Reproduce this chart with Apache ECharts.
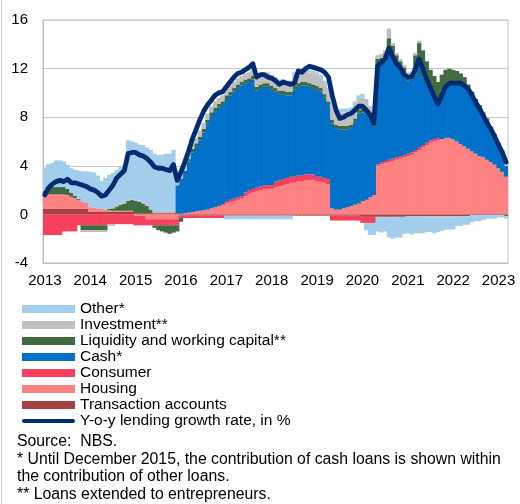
<!DOCTYPE html>
<html>
<head>
<meta charset="utf-8">
<script src="https://cdn.jsdelivr.net/npm/echarts@6.0.0/dist/echarts.min.js"></script>
<style>html,body{margin:0;padding:0;background:#fff}</style>
</head>
<body>
<div id="lending" style="width:520px;height:504px"></div>
<script>
// monthly categories, Jan 2013 - Mar 2023
var months = [];
for (var y = 2013; y <= 2023; y++) {
  for (var m = 1; m <= 12; m++) {
    if (y === 2023 && m > 3) break;
    months.push(y + '-' + (m < 10 ? '0' + m : m));
  }
}

// contributions to y-o-y growth, p.p. (one row per year)
var transactionAccounts = [
  0.45,0.45,0.45,0.45,0.45,0.45,0.45,0.45,0.45,0.45,0.45,0.45,
  0.2,0.2,0.2,0.2,0.2,0.2,0.2,0.2,0.2,0.2,0.2,0.2,
  0.1,0.1,0.1,0.1,0.1,0.1,0.1,0.1,0.1,0.1,0.1,0.1,
  -0.1,-0.1,-0.1,-0.1,-0.1,-0.1,-0.1,-0.1,-0.1,-0.1,-0.1,-0.1,
  -0.1,-0.1,-0.1,-0.1,-0.1,-0.1,-0.1,-0.1,-0.1,-0.1,-0.1,-0.1,
  -0.1,-0.1,-0.1,-0.1,-0.1,-0.1,-0.1,-0.1,-0.1,-0.1,-0.1,-0.1,
  -0.1,-0.1,-0.1,-0.1,-0.1,-0.1,-0.1,-0.1,-0.1,-0.1,-0.1,-0.1,
  -0.2,-0.2,-0.2,-0.2,-0.2,-0.2,-0.2,-0.2,-0.2,-0.2,-0.2,-0.2,
  -0.15,-0.15,-0.15,-0.15,-0.15,-0.15,-0.15,-0.15,-0.15,-0.15,-0.15,-0.15,
  -0.15,-0.15,-0.15,-0.15,-0.15,-0.05,-0.05,-0.05,-0.05,-0.05,-0.05,-0.05,
  -0.05,-0.05,-0.05
];
var housing = [
  1.2,1.2,1.2,1.2,1.2,1.2,1.15,1.0,0.9,0.75,0.6,0.5,
  0.4,0.35,0.3,0.25,0.2,0.15,0.1,0.1,0.1,0.1,0.1,0.1,
  -0.1,-0.1,-0.1,-0.4,-0.4,-0.4,-0.4,-0.4,-0.4,-0.4,-0.4,-0.4,
  0.05,0.1,0.15,0.2,0.25,0.3,0.35,0.4,0.5,0.6,0.7,0.8,
  0.9,1.0,1.1,1.2,1.3,1.5,1.7,1.8,1.9,2.0,2.1,2.1,
  2.1,2.2,2.3,2.4,2.5,2.6,2.6,2.7,2.7,2.8,2.8,2.8,
  2.7,2.7,2.6,2.5,0.5,0.4,0.4,0.5,0.6,0.7,0.8,0.9,
  1.1,1.2,1.4,1.6,4.0,4.1,4.2,4.3,4.4,4.5,4.6,4.7,
  4.8,4.9,5.1,5.3,5.5,5.7,5.9,6.0,6.1,6.2,6.3,6.3,
  6.2,6.0,5.8,5.6,5.4,5.2,5.0,4.8,4.7,4.5,4.3,4.1,
  3.8,3.5,3.1
];
var consumer = [
  -1.7,-1.7,-1.7,-1.7,-1.7,-1.4,-1.4,-1.4,-1.4,-0.9,-0.9,-0.9,
  -0.9,-0.9,-0.9,-0.9,-0.9,-0.8,-0.8,-0.8,-0.8,-0.8,-0.8,-0.8,
  -0.8,-0.8,-0.8,-0.5,-0.5,-0.5,-0.5,-0.5,-0.5,-0.5,-0.5,-0.5,
  -0.2,-0.2,-0.2,-0.2,-0.2,-0.2,-0.2,-0.2,-0.2,-0.2,-0.2,-0.2,
  0.2,0.2,0.2,0.2,0.2,0.3,0.3,0.3,0.3,0.3,0.3,0.3,
  0.3,0.5,0.5,0.5,0.5,0.5,0.5,0.5,0.5,0.5,0.5,0.5,
  0.4,0.4,0.4,0.4,-0.4,-0.4,-0.4,-0.4,-0.4,-0.4,-0.4,-0.4,
  -0.5,-0.5,-0.5,-0.5,0.1,0.2,0.2,0.2,0.2,0.2,0.2,0.2,
  0.2,0.2,0.2,0.2,0.2,0.2,0.2,0.2,0.2,0,0,0,
  0,0,0,0,0,0,0,0,0,0,0,0,
  0,0,0
];
var cash = [
  0,0,0,0,0,0,0,0,0,0,0,0,
  0,0,0,0,0,0,0,0,0,0,0,0,
  0,0,0,0,0,0,0,0,0,0,0,2.3,
  2.9,3.5,4.2,4.9,5.3,5.8,6.4,7.1,7.6,7.9,8.1,8.2,
  8.4,8.6,8.8,9.0,9.1,9.0,8.9,9.0,8.0,8.1,8.1,8.1,
  7.9,7.4,7.1,7.0,6.8,6.7,7.2,7.3,7.4,7.3,7.2,7.1,
  7.2,7.0,6.6,6.1,7.0,6.7,6.6,6.5,6.4,6.4,6.8,7.4,
  7.3,7.1,6.5,5.6,8.2,8.1,8.2,8.8,8.3,7.5,7.0,6.4,
  6.0,6.0,6.2,6.7,5.6,4.9,4.4,3.7,3.0,4.0,4.3,4.5,
  4.6,4.8,4.9,4.9,4.7,4.5,4.2,3.9,3.5,3.2,2.8,2.4,
  2.0,1.7,0.9
];
var liquidity = [
  0.3,0.6,0.6,0.6,0.6,0.6,0.5,0.35,0.2,0.1,-0.4,-0.4,
  -0.4,-0.4,-0.4,-0.4,-0.4,0.1,0.2,0.35,0.5,0.6,0.8,0.9,
  1.0,0.95,0.8,0.6,0.3,-0.2,-0.4,-0.5,-0.6,-0.7,-0.6,-0.5,
  -0.3,0,0.2,0.3,0.3,0.3,0.3,0.3,0.3,0.3,0.3,0.3,
  0.3,0.3,0.3,0.3,0.3,0.3,0.3,0.3,0.3,0.3,0.3,0.3,
  0.3,0.3,0.3,0.3,0.3,0.3,0.3,0.3,0.3,0.3,0.3,0.3,
  0.3,0.3,0.3,0.3,0.3,0.3,0.3,0.3,0.3,0.3,0.3,0.3,
  0.3,0.3,0.3,0.3,0.5,0.5,0.6,1.2,1.0,0.9,0.8,0.8,
  0.5,0.4,1.6,1.9,2.2,1.8,1.4,1.5,1.6,1.3,1.3,1.2,
  1.1,1.0,0.9,0.8,0.6,0.4,0.3,0.3,0.2,0.2,0.1,0.1,
  0.1,0,-0.1
];
var investment = [
  0,0,0,0,0,0,0,0,0,0,-0.15,-0.15,
  -0.15,-0.15,-0.15,-0.15,-0.15,-0.15,-0.15,0.1,0.1,0.1,0.1,0.1,
  0.1,0.1,0.1,0.2,0.2,0.2,0.2,0.2,0.2,0.2,0.2,0.2,
  0.4,0.4,0.4,0.4,0.4,0.5,0.5,0.5,0.5,0.5,0.5,0.5,
  0.5,0.5,0.5,0.5,0.5,0.5,0.5,0.5,0.9,0.9,0.9,0.9,
  0.9,0.9,0.9,0.9,0.9,0.9,0.9,0.9,0.9,0.9,0.9,0.9,
  0.9,0.9,0.9,0.9,1.1,1.1,1.1,1.1,1.1,1.1,1.1,0.9,
  0.9,0.9,0.7,0.7,0.3,0.3,0.3,0.8,0.2,0.2,0.2,0.2,
  0.2,0.2,0.2,0.2,-0.1,-0.1,-0.1,-0.1,-0.1,-0.1,-0.1,-0.1,
  -0.1,0,0,0,0,0,0,0,0,0,0,0,
  0,0,0
];
var other = [
  1.9,1.9,2.0,2.2,2.2,2.1,2.0,2.0,2.1,2.3,2.5,2.6,
  2.9,2.9,2.7,2.3,2.6,2.8,2.9,2.9,3.0,3.0,4.9,4.7,
  4.7,4.6,4.7,4.6,4.7,4.7,4.6,4.6,4.7,4.7,5.0,0.2,
  0.2,0.2,0.1,0.1,0,0,0,0,0,0,0,0,
  -0.3,-0.3,-0.3,-0.3,-0.3,-0.3,-0.3,-0.3,-0.3,-0.3,-0.3,-0.3,
  -0.3,-0.3,-0.3,-0.3,-0.3,-0.3,0.2,0.2,0.2,0.2,0.2,0.2,
  0.2,0.2,0.2,0.2,0.3,0.3,0.3,0.3,0.3,0.3,0.3,0.3,
  0.3,-0.6,-1.0,-1.0,-1.2,-1.3,-1.2,-1.7,-1.8,-1.7,-1.7,-1.4,
  -1.4,-1.5,-1.4,-1.4,-1.3,-1.2,-1.2,-1.3,-1.2,-1.1,-1.0,-1.0,
  -1.0,-0.8,-0.8,-0.7,-0.7,-0.6,-0.5,-0.5,-0.4,-0.3,-0.3,-0.3,
  -0.2,-0.2,-0.2
];
// y-o-y lending growth rate, %
var growth = [
  1.6,2.2,2.5,2.7,2.8,2.7,2.9,2.6,2.6,2.5,2.4,2.3,
  2.1,2.0,1.8,1.5,1.6,2.0,2.4,3.0,3.3,3.6,5.0,5.1,
  5.1,4.9,4.8,4.6,4.3,3.9,3.8,3.8,3.7,3.6,4.1,2.8,
  3.5,4.3,5.2,6.2,7.0,7.8,8.5,9.0,9.4,9.8,10.0,10.1,
  10.5,10.9,11.3,11.6,11.7,11.9,12.1,12.4,11.3,11.5,11.5,11.3,
  11.2,11.0,10.7,10.9,10.8,10.7,10.8,11.8,11.7,12.0,12.2,12.1,
  12.0,11.9,11.7,11.3,9.8,8.6,7.9,8.0,8.2,8.3,8.6,8.9,
  8.9,8.6,8.2,7.5,12.2,12.5,12.8,13.7,13.0,12.4,12.1,11.5,
  11.3,11.3,12.0,12.8,12.0,11.1,10.4,9.7,9.1,9.8,10.5,10.8,
  10.8,10.8,10.8,10.6,10.3,9.8,9.2,8.7,8.1,7.5,7.0,6.4,
  5.7,5.1,4.3
];

var font = '"Liberation Sans", Arial, sans-serif';
var noteFont = '15.8px ' + font;
var lineIcon = 'path://M2,0H51A2,2,0,0,1,51,4H2A2,2,0,0,1,2,0Z';

function barSeries(name, color, data) {
  return {
    name: name,
    type: 'bar',
    stack: 'total',
    barWidth: 4.4, // a bit wider than the 3.8px band so neighbours overlap, no seams
    itemStyle: { color: color },
    emphasis: { disabled: true },
    data: data
  };
}

var option = {
  animation: false,
  textStyle: { fontFamily: font },
  grid: { left: 43, right: 12, top: 20, bottom: 241, show: true, borderColor: '#C0C0C0', borderWidth: 1 },
  xAxis: {
    type: 'category',
    data: months,
    axisLine: { onZero: false, lineStyle: { color: '#C0C0C0' } },
    axisTick: { interval: function (i) { return i % 12 === 0; }, length: 4, lineStyle: { color: '#C0C0C0' } },
    axisLabel: {
      interval: function (i) { return i % 12 === 0; },
      formatter: function (v) { return v.slice(0, 4); },
      color: '#000', fontSize: 15, fontFamily: font, margin: 10
    },
    splitLine: { show: false }
  },
  yAxis: {
    type: 'value',
    min: -4, max: 16, interval: 4,
    axisLine: { show: true, lineStyle: { color: '#C0C0C0' } },
    axisTick: { show: false },
    axisLabel: { color: '#000', fontSize: 15, fontFamily: font, margin: 15 },
    splitLine: { lineStyle: { color: '#C8C8C8', width: 1 } }
  },
  legend: {
    orient: 'vertical', left: 17, top: 296,
    itemWidth: 53, itemHeight: 8, itemGap: 0,
    selectedMode: false,
    textStyle: { fontFamily: font, fontSize: 15.5, color: '#000', lineHeight: 15.9 },
    data: [
      { name: 'Other*', icon: 'rect' },
      { name: 'Investment**', icon: 'rect' },
      { name: 'Liquidity and working capital**', icon: 'rect' },
      { name: 'Cash*', icon: 'rect' },
      { name: 'Consumer', icon: 'rect' },
      { name: 'Housing', icon: 'rect' },
      { name: 'Transaction accounts', icon: 'rect' },
      { name: 'Y-o-y lending growth rate, in %', icon: lineIcon }
    ]
  },
  graphic: [
    { type: 'line', shape: { x1: 1.5, y1: 0, x2: 1.5, y2: 504 }, style: { stroke: '#D0D0D0', lineWidth: 1 } },
    { type: 'text', x: 17, y: 442, style: { text: 'Source:  NBS.', font: noteFont, fill: '#000', verticalAlign: 'middle' } },
    { type: 'text', x: 17, y: 459.5, style: { text: '* Until December 2015, the contribution of cash loans is shown within', font: noteFont, fill: '#000', verticalAlign: 'middle' } },
    { type: 'text', x: 17, y: 477, style: { text: 'the contribution of other loans.', font: noteFont, fill: '#000', verticalAlign: 'middle' } },
    { type: 'text', x: 17, y: 495, style: { text: '** Loans extended to entrepreneurs.', font: noteFont, fill: '#000', verticalAlign: 'middle' } }
  ],
  series: [
    barSeries('Transaction accounts', '#A64141', transactionAccounts),
    barSeries('Housing', '#FF8282', housing),
    barSeries('Consumer', '#F7405C', consumer),
    barSeries('Cash*', '#0070C8', cash),
    barSeries('Liquidity and working capital**', '#406A40', liquidity),
    barSeries('Investment**', '#BFBFBF', investment),
    barSeries('Other*', '#A3CEEB', other),
    {
      name: 'Y-o-y lending growth rate, in %',
      type: 'line',
      z: 10,
      symbol: 'none',
      itemStyle: { color: '#002D72' },
      lineStyle: { color: '#002D72', width: 4.8, cap: 'round', join: 'round' },
      emphasis: { disabled: true },
      data: growth
    }
  ]
};

var chart = echarts.init(document.getElementById('lending'), null, { renderer: 'canvas' });
chart.setOption(option);
</script>
</body>
</html>
